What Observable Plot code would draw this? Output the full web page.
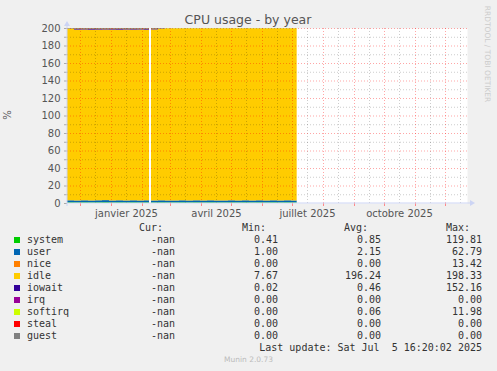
<!DOCTYPE html>
<html><head><meta charset="utf-8">
<script src="https://cdn.jsdelivr.net/npm/d3@7"></script>
<script src="https://cdn.jsdelivr.net/npm/@observablehq/plot@0.6"></script>
<style>
html,body{margin:0;padding:0;background:#F0F0F0;}
body{width:497px;height:371px;overflow:hidden;position:relative;font-family:"DejaVu Sans",sans-serif;}
#chart{position:absolute;left:0;top:0;}
.lg{position:absolute;font-family:"DejaVu Sans Mono",monospace;font-size:10px;color:#333;white-space:pre;height:12px;line-height:12px;}
.sq{position:absolute;width:6px;height:6px;}
</style></head><body>
<div id="chart"></div><div id="legend"></div>
<script>
const periodStart = ["2024-11-18","2024-11-25","2024-12-02","2024-12-09","2024-12-16","2024-12-23","2024-12-30","2025-01-06","2025-01-13","2025-01-20","2025-01-27","2025-02-03","2025-02-10","2025-02-17","2025-02-24","2025-03-03","2025-03-10","2025-03-17","2025-03-24","2025-03-31","2025-04-07","2025-04-14","2025-04-21","2025-04-28","2025-05-05","2025-05-12","2025-05-19","2025-05-26","2025-06-02","2025-06-09","2025-06-16","2025-06-23","2025-06-30"];
const periodEnd = ["2024-11-25","2024-12-02","2024-12-09","2024-12-16","2024-12-23","2024-12-30","2025-01-06","2025-01-13","2025-01-20","2025-01-27","2025-02-03","2025-02-08","2025-02-17","2025-02-24","2025-03-03","2025-03-10","2025-03-17","2025-03-24","2025-03-31","2025-04-07","2025-04-14","2025-04-21","2025-04-28","2025-05-05","2025-05-12","2025-05-19","2025-05-26","2025-06-02","2025-06-09","2025-06-16","2025-06-23","2025-06-30","2025-07-05T16:20:00Z"];
const system  = [0.9,0.8,0.9,0.8,0.9,1.0,0.8,0.9,0.8,0.9,0.8,0.9,0.8,0.9,0.8,0.8,0.9,0.8,0.9,0.8,0.9,0.8,0.8,0.9,0.8,0.9,0.8,0.9,0.8,0.9,0.8,0.9,0.8];
const user    = [2.2,2.1,2.2,2.1,2.2,2.3,2.1,2.2,2.1,2.2,2.1,2.2,2.1,2.2,2.1,2.1,2.2,2.1,2.2,2.1,2.2,2.1,2.1,2.2,2.1,2.2,2.1,2.2,2.1,2.2,2.1,2.2,2.1];
const nice    = [0,0,0,0,0,0,0,0,0,0,0,0,0,0,0,0,0,0,0,0,0,0,0,0,0,0,0,0,0,0,0,0,0];
const idle    = [196.0,195.3,195.2,195.2,195.1,195.0,195.3,195.0,195.4,195.1,195.4,195.0,195.5,195.9,196.6,196.6,196.4,196.6,196.4,196.6,196.4,196.6,196.6,196.4,196.6,196.4,196.6,196.4,196.6,196.4,196.6,196.4,196.6];
const iowait  = [0.5,1.4,1.3,1.5,1.4,1.3,1.4,1.5,1.3,1.4,1.3,1.5,1.2,0.6,0.1,0.1,0.1,0.1,0.1,0.1,0.1,0.1,0.1,0.1,0.1,0.1,0.1,0.1,0.1,0.1,0.1,0.1,0.1];
const irq     = [0,0,0,0,0,0,0,0,0,0,0,0,0,0,0,0,0,0,0,0,0,0,0,0,0,0,0,0,0,0,0,0,0];
const softirq = [0.4,0.4,0.4,0.4,0.4,0.4,0.4,0.4,0.4,0.4,0.4,0.4,0.4,0.4,0.4,0.4,0.4,0.4,0.4,0.4,0.4,0.4,0.4,0.4,0.4,0.4,0.4,0.4,0.4,0.4,0.4,0.4,0.4];
const steal   = [0,0,0,0,0,0,0,0,0,0,0,0,0,0,0,0,0,0,0,0,0,0,0,0,0,0,0,0,0,0,0,0,0];
const guest   = [0,0,0,0,0,0,0,0,0,0,0,0,0,0,0,0,0,0,0,0,0,0,0,0,0,0,0,0,0,0,0,0,0];

const seriesNames  = ["system","user","nice","idle","iowait","irq","softirq","steal","guest"];
const seriesColors = ["#00CC00","#0066B3","#FF8000","#FFCC00","#330099","#990099","#CCFF00","#FF0000","#808080"];
const legendCur = ["-nan","-nan","-nan","-nan","-nan","-nan","-nan","-nan","-nan"];
const legendMin = ["0.41","1.00","0.00","7.67","0.02","0.00","0.00","0.00","0.00"];
const legendAvg = ["0.85","2.15","0.00","196.24","0.46","0.00","0.06","0.00","0.00"];
const legendMax = ["119.81","62.79","13.42","198.33","152.16","0.00","11.98","0.00","0.00"];

const yTicks = [0,20,40,60,80,100,120,140,160,180,200];
const yMinor = [10,30,50,70,90,110,130,150,170,190];
const monthStarts = ["2024-12-01","2025-01-01","2025-02-01","2025-03-01","2025-04-01","2025-05-01","2025-06-01","2025-07-01","2025-08-01","2025-09-01","2025-10-01","2025-11-01","2025-12-01"];
const midMonths = ["2024-12-16","2025-01-16","2025-02-16","2025-03-16","2025-04-16","2025-05-16","2025-06-16","2025-07-16","2025-08-16","2025-09-16","2025-10-16","2025-11-16","2025-12-16"];
const xLabelDates = ["2025-01-16","2025-04-16","2025-07-16","2025-10-16"];
const xLabels = ["janvier 2025","avril 2025","juillet 2025","octobre 2025"];
const xDomain = ["2024-11-18","2025-12-23"];

const seriesValues = {system, user, nice, idle, iowait, irq, softirq, steal, guest};
const rows = [];
seriesNames.forEach(s => seriesValues[s].forEach((v, i) => rows.push({
  start: new Date(periodStart[i]), end: new Date(periodEnd[i]), series: s, value: v
})));
const labelMap = new Map(xLabelDates.map((d, i) => [+new Date(d), xLabels[i]]));
const D = a => a.map(d => new Date(d));

const plot = Plot.plot({
  width: 497, height: 222,
  marginLeft: 67, marginRight: 30, marginTop: 28, marginBottom: 19,
  style: {background: "transparent", fontFamily: "'DejaVu Sans', sans-serif", fontSize: "10px", color: "#555", overflow: "visible"},
  x: {type: "utc", domain: D(xDomain), label: null},
  y: {domain: [0, 200], label: null},
  color: {domain: seriesNames, range: seriesColors},
  marks: [
    Plot.frame({fill: "white", stroke: null}),
    Plot.rectY(rows, Plot.stackY({x1: "start", x2: "end", y: "value", fill: "series", order: seriesNames})),
    Plot.gridY(yMinor, {stroke: "#000", strokeOpacity: 0.2, strokeDasharray: "1,2"}),
    Plot.gridX(D(midMonths), {stroke: "#000", strokeOpacity: 0.2, strokeDasharray: "1,2"}),
    Plot.gridY(yTicks.slice(1), {stroke: "#f00", strokeOpacity: 0.35, strokeDasharray: "1,2"}),
    Plot.gridX(D(monthStarts), {stroke: "#f00", strokeOpacity: 0.35, strokeDasharray: "1,2"}),
    Plot.axisY(yTicks, {tickSize: 3, tickPadding: 4, stroke: "#aaa", fill: "#555", label: null}),
    Plot.axisY(yMinor, {tickSize: 3, tickFormat: () => "", stroke: "#aaa", label: null}),
    Plot.axisX(D(monthStarts), {tickSize: 3, tickFormat: () => "", stroke: "#f88", label: null}),
    Plot.axisX(D(xLabelDates), {tickSize: 0, tickPadding: 6.5, tickFormat: d => labelMap.get(+d), fill: "#555", label: null})
  ]
});
document.getElementById("chart").appendChild(plot);

const svg = d3.select(plot);
const xs = plot.scale("x"), ys = plot.scale("y");
const x0 = xs.range[0], x1 = xs.range[1], y0 = ys.range[0], y1 = ys.range[1];
const axisColor = "#CCD4F4";
svg.append("line").attr("x1", x0).attr("x2", x1 + 4).attr("y1", y0).attr("y2", y0).attr("stroke", axisColor);
svg.append("line").attr("x1", x0).attr("x2", x0).attr("y1", y0 + 3).attr("y2", y1 - 4).attr("stroke", axisColor);
svg.append("path").attr("d", `M${x1+3},${y0-3}L${x1+8},${y0}L${x1+3},${y0+3}Z`).attr("fill", axisColor);
svg.append("path").attr("d", `M${x0-3},${y1-2}L${x0},${y1-7}L${x0+3},${y1-2}Z`).attr("fill", axisColor);
svg.append("text").attr("x", 248).attr("y", 24).attr("text-anchor", "middle")
  .attr("font-size", 12.5).attr("fill", "#555").text("CPU usage - by year");
svg.append("text").attr("transform", "translate(11,115) rotate(-90)").attr("text-anchor", "middle")
  .attr("font-size", 10).attr("fill", "#555").text("%");
svg.append("text").attr("transform", "translate(485,54) rotate(90)").attr("text-anchor", "middle")
  .attr("font-size", 7.5).attr("fill", "#ccc").text("RRDTOOL / TOBI OETIKER");

// legend
const lg = document.getElementById("legend");
function put(txt, cy, opts) {
  const el = document.createElement("div");
  el.className = "lg";
  el.textContent = txt;
  el.style.top = (cy - 6) + "px";
  if (opts.left != null) el.style.left = opts.left + "px";
  if (opts.right != null) el.style.right = (497 - opts.right) + "px";
  if (opts.style) Object.assign(el.style, opts.style);
  lg.appendChild(el);
}
const hy = 228;
put("Cur:", hy, {right: 163});
put("Min:", hy, {right: 266});
put("Avg:", hy, {right: 368});
put("Max:", hy, {right: 470});
seriesNames.forEach((s, i) => {
  const cy = 240 + 12 * i;
  const sq = document.createElement("div");
  sq.className = "sq";
  sq.style.left = "14px"; sq.style.top = (cy - 3) + "px"; sq.style.background = seriesColors[i];
  lg.appendChild(sq);
  put(s, cy, {left: 27});
  put(legendCur[i], cy, {right: 175});
  put(legendMin[i], cy, {right: 278});
  put(legendAvg[i], cy, {right: 381});
  put(legendMax[i], cy, {right: 482});
});
put("Last update: Sat Jul  5 16:20:02 2025", 348, {right: 482});
put("Munin 2.0.73", 360, {left: 0, style: {width: "497px", textAlign: "center", fontFamily: "'DejaVu Sans', sans-serif", fontSize: "7.5px", color: "#bbb"}});
</script>
</body></html>
